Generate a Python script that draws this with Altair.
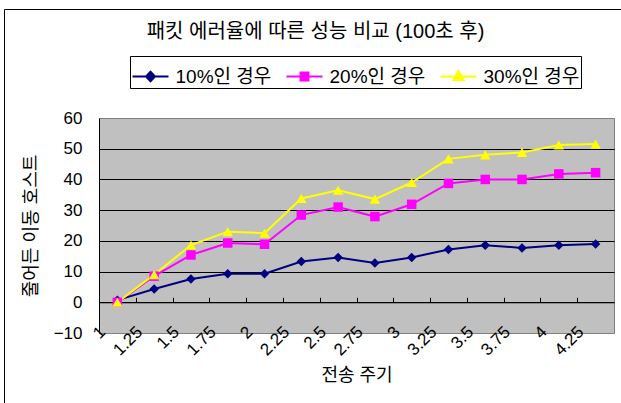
import altair as alt
import pandas as pd

# Transmission periods (category axis) and the three packet-error series
periods = ["1", "1.25", "1.5", "1.75", "2", "2.25", "2.5", "2.75",
           "3", "3.25", "3.5", "3.75", "4", "4.25"]
series_names = ["10%인 경우", "20%인 경우", "30%인 경우"]
reduced_10 = [0.7, 4.3, 7.6, 9.3, 9.3, 13.3, 14.6, 12.8, 14.6, 17.2, 18.6, 17.7, 18.6, 19.0]
reduced_20 = [0.0, 8.5, 15.4, 19.3, 18.9, 28.4, 31.0, 27.9, 31.9, 38.7, 40.0, 40.0, 41.8, 42.2]
reduced_30 = [0.0, 9.0, 18.6, 23.0, 22.5, 33.8, 36.5, 33.6, 39.0, 46.7, 48.0, 48.8, 51.2, 51.5]
y_ticks = [-10, 0, 10, 20, 30, 40, 50, 60]

colors = ["#000080", "#FF00FF", "#FFFF00"]
marker_shapes = ["diamond", "square", "triangle-up"]
marker_sizes = [90, 90, 110]
FONT = "Liberation Sans, Noto Sans CJK KR"

rows = []
for name, vals in zip(series_names, [reduced_10, reduced_20, reduced_30]):
    for p, v in zip(periods, vals):
        rows.append({"period": p, "value": v, "series": name})
df = pd.DataFrame(rows)

W, H = 515, 215
half_band = W / len(periods) / 2
zero_offset = H * 60 / 70  # distance of the y=0 line from the top edge

# legend symbols: a short line with the series marker on it (markers built
# from nested outlines so that a stroke-only symbol reads as solid)
legend_paths = [
    "M-1,0L1,0"
    "M0,-0.27L0.25,0L0,0.27L-0.25,0Z"
    "M0,-0.18L0.16,0L0,0.18L-0.16,0Z"
    "M0,-0.09L0.08,0L0,0.09L-0.08,0Z",
    "M-1,0L1,0"
    "M-0.22,-0.22L0.22,-0.22L0.22,0.22L-0.22,0.22Z"
    "M-0.13,-0.13L0.13,-0.13L0.13,0.13L-0.13,0.13Z"
    "M-0.05,-0.05L0.05,-0.05L0.05,0.05L-0.05,0.05Z",
    "M-1,0L1,0"
    "M0,-0.3L0.28,0.2L-0.28,0.2Z"
    "M0,-0.17L0.16,0.12L-0.16,0.12Z"
    "M0,-0.05L0.05,0.05L-0.05,0.05Z",
]

x_scale = alt.Scale(type="band", domain=periods, paddingInner=0, paddingOuter=0)

legend_kw = dict(
    title=None, orient="none", legendX=31, legendY=-62,
    direction="horizontal", columns=3,
    labelFont=FONT, labelFontSize=19, labelColor="black",
    labelOffset=6, columnPadding=11,
    symbolSize=1296, symbolStrokeWidth=2, symbolOpacity=1,
    strokeColor="black", fillColor="white", padding=1.5, cornerRadius=0,
)
color = alt.Color("series:N", scale=alt.Scale(domain=series_names, range=colors),
                  legend=alt.Legend(**legend_kw))

y = alt.Y(
    "value:Q",
    scale=alt.Scale(domain=[-10, 60], nice=False, zero=False),
    axis=alt.Axis(
        values=y_ticks, format="d", title="줄어든 이동 호스트",
        titleFont=FONT, titleFontSize=18, titleFontWeight="normal", titleColor="black",
        titleX=-68, titleY=H / 2, titleAlign="center", titleBaseline="middle", titleAngle=-90,
        labelFont=FONT, labelFontSize=17, labelColor="black", labelPadding=17,
        ticks=False, domainColor="black",
        grid=True,
        gridColor=alt.condition("datum.value == -10 || datum.value == 60",
                                alt.value("#808080"), alt.value("black")),
    ),
)

x_center = alt.X("period:N", sort=periods, scale=x_scale, bandPosition=0.5, axis=None)

frame = alt.Chart(pd.DataFrame({"frame": [0]})).mark_rect(
    fill="transparent", stroke="black", strokeWidth=1
).encode(
    x=alt.value(-94.5), x2=alt.value(640), y=alt.value(-108.5), y2=alt.value(420)
)

# legend carrier: no rows drawn; its color/shape scales (explicit domains) feed the legend
legend_layer = alt.Chart(df).transform_filter("false").mark_point(
    filled=False, opacity=1, strokeWidth=2
).encode(
    x=x_center, y=y, color=color,
    shape=alt.Shape("series:N", scale=alt.Scale(domain=series_names, range=legend_paths),
                    legend=alt.Legend(**legend_kw)),
)

# series lines; this layer also carries the y=0 axis line with boundary ticks
lines = alt.Chart(df).mark_line(strokeWidth=2).encode(
    x=alt.X("period:N", sort=periods, scale=x_scale, bandPosition=0.5,
            axis=alt.Axis(orient="top", offset=-zero_offset, labels=False, title=None,
                          ticks=True, tickSize=5, tickColor="black", tickWidth=1,
                          tickOffset=-half_band,
                          domainColor="black", grid=False)),
    y=y,
    color=color,
)

# markers, one layer per series
marker_layers = []
for name, shp, sz in zip(series_names, marker_shapes, marker_sizes):
    marker_layers.append(
        alt.Chart(df).transform_filter(alt.datum.series == name)
        .mark_point(filled=True, opacity=1, shape=shp, size=sz)
        .encode(x=x_center, y=y, color=color)
    )

# category labels below the plot, anchored on the band boundaries
labels_axis = alt.Chart(df).mark_point(opacity=0).encode(
    x=alt.X("period:N", sort=periods, scale=x_scale, bandPosition=0.5,
            axis=alt.Axis(orient="bottom", title="전송 주기",
                          titleFont=FONT, titleFontSize=18, titleFontWeight="normal",
                          titleColor="black", titleY=42, titleBaseline="middle",
                          labelAngle=-45, labelAlign="right", labelBaseline="middle",
                          labelPadding=-4, labelOffset=-half_band + 4, labelOverlap=False,
                          labelFont=FONT, labelFontSize=17, labelColor="black",
                          ticks=False, tickSize=0, domain=False, grid=False)),
    y=y,
)

chart = alt.layer(frame, legend_layer, lines, *marker_layers, labels_axis).resolve_axis(
    x="independent"
).properties(
    width=W, height=H,
    title=alt.TitleParams(
        "패킷 에러율에 따른 성능 비교 (100초 후)",
        font=FONT, fontSize=20, fontWeight="normal", color="black",
        anchor="middle", frame="group", dx=-41, dy=21, baseline="bottom", offset=-32,
    ),
    autosize=alt.AutoSizeParams(type="none"),
    padding={"left": 99, "top": 118, "right": 7, "bottom": 70},
).configure(
    background="white"
).configure_view(
    fill="#C0C0C0", stroke="#808080", strokeWidth=1
)

chart.save("out.html", embed_options={"renderer": "svg", "actions": False})
